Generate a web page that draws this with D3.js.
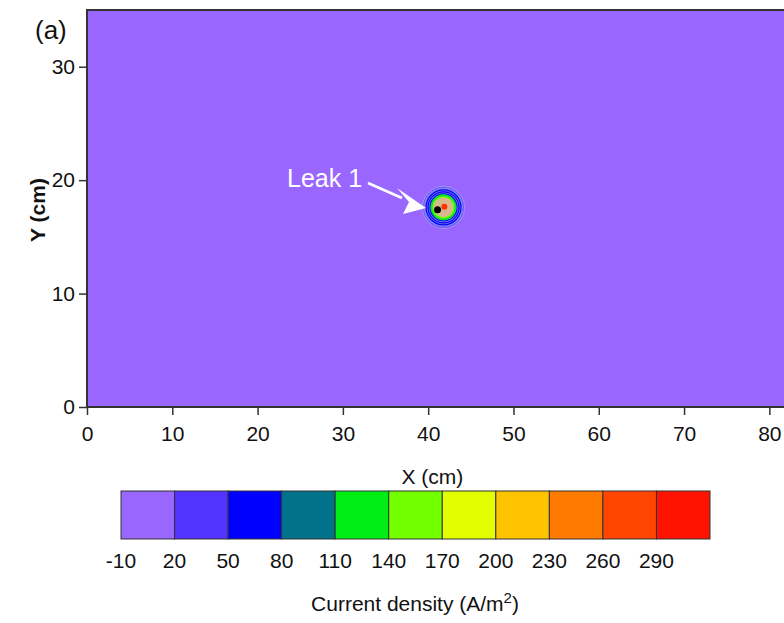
<!DOCTYPE html>
<html lang="en">
<head>
<meta charset="utf-8">
<title>Current density map</title>
<script src="https://cdn.jsdelivr.net/npm/d3@7"></script>
<style>
  body { margin: 0; background: #fff; }
  text { font-family: "Liberation Sans", Arial, sans-serif; fill: #111; }
</style>
</head>
<body>
<script>
// axis ticks
var xTicks = [0, 10, 20, 30, 40, 50, 60, 70, 80];
var yTicks = [0, 10, 20, 30];

// colour levels (A/m2)
var levels = [-10, 20, 50, 80, 110, 140, 170, 200, 230, 260, 290];
var levelColors = ["#9966ff", "#5233ff", "#0000ff", "#00738a", "#00ee14", "#72ff00",
                   "#e2ff00", "#ffc400", "#ff7a00", "#ff4500", "#ff1200"];

// leak spot: contour rings around the centre (radius in cm, level value)
var leakCenter = [41.8, 17.6];
var ringRadii = [2.35, 2.05, 1.82, 1.58, 1.41, 1.23];
var ringLevels = [20, 50, 50, 50, 110, 140];
var blackDot = [41.1, 17.4];
var redDot = [41.9, 17.65];

var W = 784, H = 623;
var svg = d3.select("body").append("svg").attr("width", W).attr("height", H);

var x = d3.scaleLinear().domain([0, 85]).range([87, 812]);
var y = d3.scaleLinear().domain([0, 35]).range([407, 10]);
var color = d3.scaleThreshold().domain(levels.slice(1)).range(levelColors);

// background field (everything at the lowest level)
svg.append("rect")
  .attr("x", x(0)).attr("y", y(35))
  .attr("width", x(85) - x(0)).attr("height", y(0) - y(35))
  .attr("fill", color(0))
  .attr("stroke", "#333").attr("stroke-width", 2);

// leak contours
var lk = svg.append("g");
var cx = x(leakCenter[0]), cy = y(leakCenter[1]);
lk.append("circle").attr("cx", cx).attr("cy", cy)
  .attr("r", x(ringRadii[0]) - x(0) + 1.5)
  .attr("fill", "#a9a0f0").attr("opacity", 0.7);
ringRadii.forEach(function(r, i) {
  var last = i == ringRadii.length - 1;
  lk.append("circle").attr("cx", cx).attr("cy", cy)
    .attr("r", x(r) - x(0))
    .attr("fill", last ? "#d8b98e" : (i == 0 ? "#8c86f2" : "#7a78f0"))
    .attr("stroke", i == 0 ? "#6a62f5" : color(ringLevels[i]))
    .attr("stroke-width", i == 4 ? 2 : 1.2);
});
lk.append("circle").attr("cx", x(blackDot[0])).attr("cy", y(blackDot[1])).attr("r", 3.5).attr("fill", "#000");
lk.append("circle").attr("cx", x(redDot[0])).attr("cy", y(redDot[1])).attr("r", 3).attr("fill", "#ff3300");

// annotation
svg.append("text").attr("x", 287).attr("y", 187)
  .style("font-size", "25px").style("fill", "#fff").text("Leak 1");
svg.append("line")
  .attr("x1", 368).attr("y1", 183).attr("x2", 402).attr("y2", 198)
  .attr("stroke", "#fff").attr("stroke-width", 2.5);
svg.append("path")
  .attr("d", "M397,188 L426,208 L403,214 L409,202 Z")
  .attr("fill", "#fff");

// axes
var xAxis = d3.axisBottom(x).tickValues(xTicks).tickSize(8).tickPadding(11);
var gx = svg.append("g").attr("transform", "translate(0," + y(0) + ")").call(xAxis);
var yAxis = d3.axisLeft(y).tickValues(yTicks).tickSize(8).tickPadding(4);
var gy = svg.append("g").attr("transform", "translate(" + x(0) + ",0)").call(yAxis);
[gx, gy].forEach(function(g) {
  g.select(".domain").remove();
  g.selectAll("line").attr("stroke", "#333").attr("stroke-width", 1.5);
  g.selectAll("text").style("font-size", "21px").attr("font-family", null).attr("fill", "#111");
});

svg.append("text").attr("x", x(40.5)).attr("y", 484).attr("text-anchor", "middle")
  .style("font-size", "21px").text("X (cm)");
svg.append("text").attr("transform", "translate(45,210) rotate(-90)").attr("text-anchor", "middle")
  .style("font-size", "21px").style("font-weight", "bold").text("Y (cm)");
svg.append("text").attr("x", 35).attr("y", 39).style("font-size", "26px").text("(a)");

// colour bar
var cb = d3.scaleBand().domain(levels).range([121, 710]);
svg.append("g").selectAll("rect").data(levels).join("rect")
  .attr("x", function(d) { return cb(d); }).attr("y", 491)
  .attr("width", cb.bandwidth()).attr("height", 48)
  .attr("fill", function(d) { return color(d); })
  .attr("stroke", "#333").attr("stroke-width", 1);
svg.append("g").selectAll("text").data(levels).join("text")
  .attr("x", function(d) { return cb(d); }).attr("y", 568)
  .attr("text-anchor", "middle").style("font-size", "21px")
  .text(function(d) { return d; });

var lbl = svg.append("text").attr("x", 415).attr("y", 611).attr("text-anchor", "middle")
  .style("font-size", "21px");
lbl.append("tspan").text("Current density (A/m");
lbl.append("tspan").attr("dy", -8).style("font-size", "15px").text("2");
lbl.append("tspan").attr("dy", 8).text(")");
</script>
</body>
</html>
